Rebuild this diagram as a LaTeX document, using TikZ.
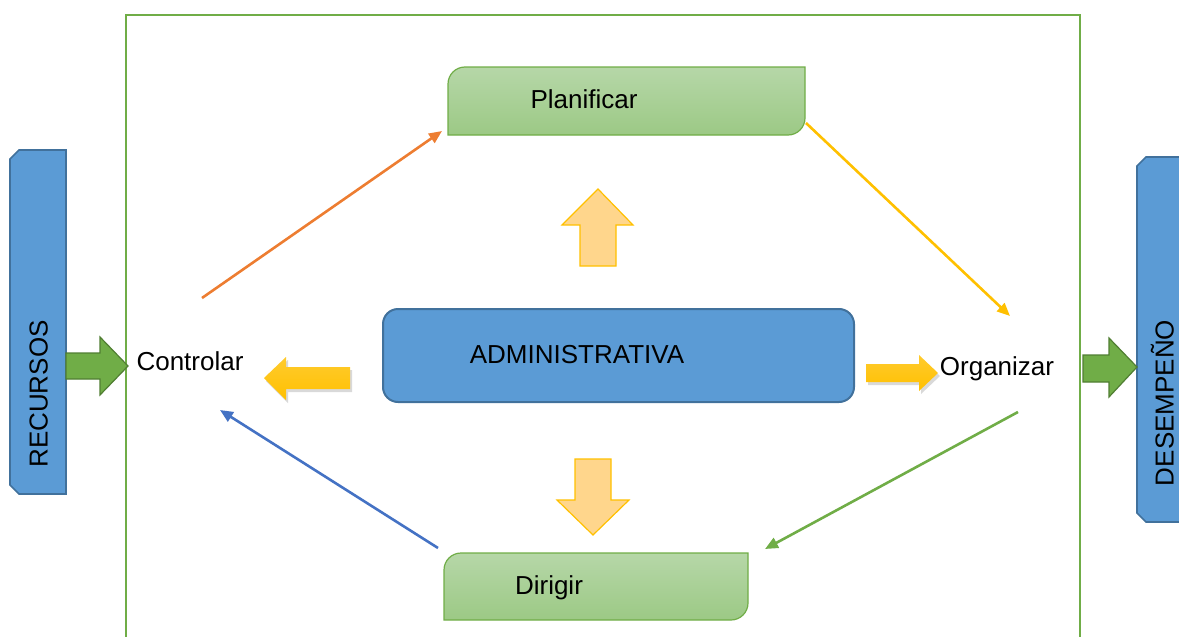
\documentclass[tikz,border=0pt]{standalone}
\usepackage{fontspec}
\setmainfont{Liberation Sans}
\usetikzlibrary{arrows.meta,shadows}
\definecolor{frameGreen}{HTML}{70AD47}
\definecolor{darkGreen}{HTML}{507E32}
\definecolor{boxBlue}{HTML}{5B9BD5}
\definecolor{edgeBlue}{HTML}{41719C}
\definecolor{leafTop}{HTML}{B6D7A8}
\definecolor{leafBot}{HTML}{9CC985}
\definecolor{gold}{HTML}{FFC000}
\definecolor{goldTop}{HTML}{FFCB2E}
\definecolor{paleGold}{HTML}{FFD68C}
\definecolor{flowOrange}{HTML}{ED7D31}
\definecolor{flowBlue}{HTML}{4472C4}
\begin{document}
\begin{tikzpicture}[x=1pt, y=-1pt,
    lbl/.style={font=\fontsize{26}{30}\selectfont, inner sep=0pt, text height=19pt, text depth=0pt},
    flow/.style={-{Triangle[length=13pt,width=11pt]}, line width=2.6pt},
    sidebox/.style={fill=boxBlue, draw=edgeBlue, line width=1.6pt},
    inarrow/.style={fill=frameGreen, draw=darkGreen, line width=1.2pt},
    leaf/.style={top color=leafTop, bottom color=leafBot, draw=frameGreen, line width=1.2pt},
    pale/.style={fill=paleGold, draw=gold, line width=1.2pt},
    goldarrow/.style={top color=goldTop, bottom color=gold, draw=none,
      drop shadow={opacity=0.3, shadow xshift=2pt, shadow yshift=-3pt}},
    adminbox/.style={rounded corners=15pt, fill=boxBlue, draw=edgeBlue, line width=2pt}]
  \useasboundingbox (0,0) rectangle (1179,637);
  \clip (0,0) rectangle (1179,637);

  % --- outer frame ---
  \draw[frameGreen, line width=2pt] (126,645) -- (126,15) -- (1080,15) -- (1080,645);

  % --- side boxes ---
  \draw[sidebox] (10,159) -- (19,150) -- (66,150) -- (66,494) -- (19,494) -- (10,485) -- cycle;
  \node[lbl, rotate=90] (rec) at (38,394) {RECURSOS};
  \draw[sidebox] (1137,166) -- (1146,157) -- (1195,157) -- (1195,522) -- (1146,522) -- (1137,513) -- cycle;
  \node[lbl, rotate=90] (des) at (1164,403) {DESEMPEÑO};

  % green input / output arrows
  \draw[inarrow] (66,353) -- (100,353) -- (100,337) -- (128,366) -- (100,395) -- (100,379) -- (66,379) -- cycle;
  \draw[inarrow] (1083,355) -- (1109,355) -- (1109,338) -- (1137,367) -- (1109,397) -- (1109,382) -- (1083,382) -- cycle;

  % --- Planificar ---
  \path[leaf] (448,135) -- (448,84) .. controls (448,74.6) and (455.6,67) .. (465,67) -- (805,67)
    -- (805,118) .. controls (805,127.4) and (797.4,135) .. (788,135) -- cycle;
  \node[lbl] (plan) at (584,99) {Planificar};

  % --- Dirigir ---
  \path[leaf] (444,620) -- (444,570) .. controls (444,560.6) and (451.6,553) .. (461,553) -- (748,553)
    -- (748,603) .. controls (748,612.4) and (740.4,620) .. (731,620) -- cycle;
  \node[lbl] (dir) at (549,584.5) {Dirigir};

  % --- centre ---
  \node[adminbox, minimum width=471, minimum height=93] (adm) at (618.5,355.5) {};
  \node[lbl] (admtext) at (577,353.5) {ADMINISTRATIVA};

  \node[lbl] (ctrl) at (190,361) {Controlar};
  \node[lbl] (org) at (997,366) {Organizar};

  % block arrows out of the centre
  \draw[pale] (580,266) -- (580,225) -- (562,225) -- (598,189) -- (633,225) -- (616,225) -- (616,266) -- cycle;
  \draw[pale] (575,459) -- (611,459) -- (611,500) -- (629,500) -- (593,535) -- (557,500) -- (575,500) -- cycle;
  \path[goldarrow] (350,367) -- (286,367) -- (286,357) -- (264,378) -- (286,400) -- (286,389) -- (350,389) -- cycle;
  \path[goldarrow] (866,364) -- (919,364) -- (919,355) -- (938,373) -- (919,391) -- (919,382) -- (866,382) -- cycle;

  % --- cycle connectors ---
  \coordinate (ctrlout) at (202,298);
  \coordinate (planin) at (442,131);
  \coordinate (planout) at (806,123);
  \coordinate (orgin) at (1010,316);
  \coordinate (orgout) at (1018,412);
  \coordinate (dirin) at (765,549);
  \coordinate (dirout) at (438,548);
  \coordinate (ctrlin) at (220,410);
  \draw[flow, flowOrange] (ctrlout) -- (planin);
  \draw[flow, gold] (planout) -- (orgin);
  \draw[flow, frameGreen] (orgout) -- (dirin);
  \draw[flow, flowBlue] (dirout) -- (ctrlin);
\end{tikzpicture}
\end{document}
